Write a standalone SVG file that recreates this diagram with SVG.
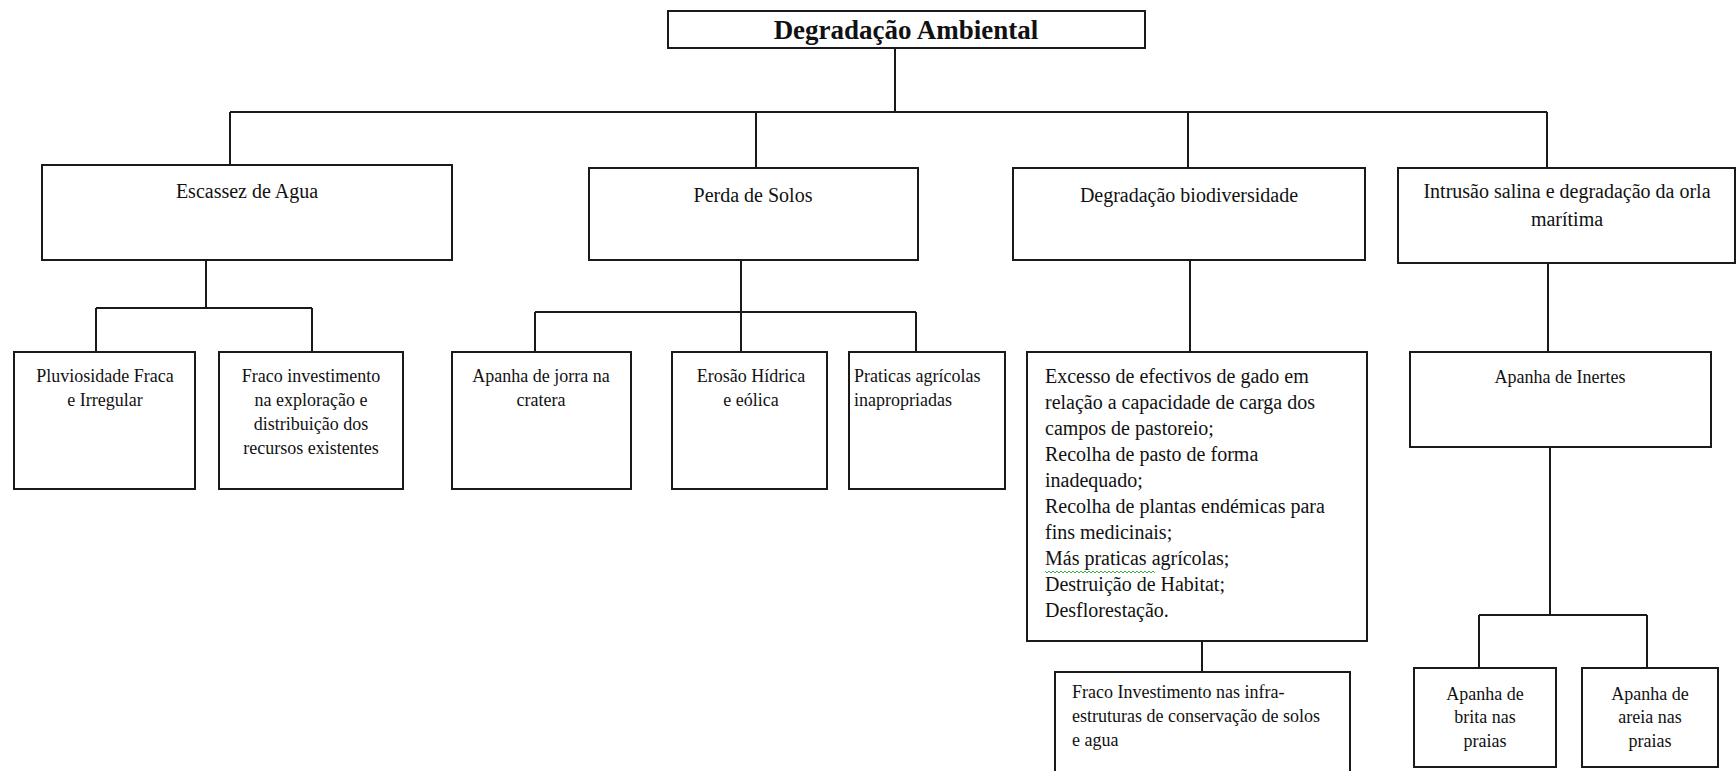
<svg xmlns="http://www.w3.org/2000/svg" width="1736" height="771" viewBox="0 0 1736 771">
<style>
.box{fill:#fff;stroke:#1a1a1a;stroke-width:2}
.ln{fill:none;stroke:#1a1a1a;stroke-width:2}
text{font-family:"Liberation Serif","Times New Roman",serif;fill:#111}
.t20{font-size:20px}
.t18{font-size:18px}
.c{text-anchor:middle}
.title{font-size:27px;font-weight:bold}
</style>
<rect width="1736" height="771" fill="#fff"/>
<g id="connectors">
<path class="ln" d="M895,48V112M230,112H1547M230,112V165M756,112V168M1188,112V168M1547,112V168"/>
<path class="ln" d="M206,260V308M96,308H312M96,308V352M312,308V352"/>
<path class="ln" d="M741,260V312M535,312H916M535,312V352M741,312V352M916,312V352"/>
<path class="ln" d="M1190,260V352M1202,641V672"/>
<path class="ln" d="M1548,263V352M1550,447V615M1479,615H1647M1479,615V668M1647,615V668"/>
</g>
<g id="n-title"><rect class="box" x="668" y="11" width="477" height="37"/><text class="title c" x="906" y="39">Degradação Ambiental</text></g>
<g id="n-escassez"><rect class="box" x="42" y="165" width="410" height="95"/><text class="t20 c" x="247" y="198">Escassez de Agua</text></g>
<g id="n-perda"><rect class="box" x="589" y="168" width="329" height="92"/><text class="t20 c" x="753" y="202">Perda de Solos</text></g>
<g id="n-bio"><rect class="box" x="1013" y="168" width="352" height="92"/><text class="t20 c" x="1189" y="202">Degradação biodiversidade</text></g>
<g id="n-intrusao"><rect class="box" x="1398" y="168" width="337" height="95"/><text class="t20 c" x="1567" y="198">Intrusão salina e degradação da orla</text><text class="t20 c" x="1567" y="226">marítima</text></g>
<g id="n-pluv"><rect class="box" x="14" y="352" width="181" height="137"/><text class="t18 c" x="105" y="382">Pluviosidade Fraca</text><text class="t18 c" x="105" y="406">e Irregular</text></g>
<g id="n-fracoinv"><rect class="box" x="219" y="352" width="184" height="137"/><text class="t18 c" x="311" y="382">Fraco investimento</text><text class="t18 c" x="311" y="406">na exploração e</text><text class="t18 c" x="311" y="430">distribuição dos</text><text class="t18 c" x="311" y="454">recursos existentes</text></g>
<g id="n-jorra"><rect class="box" x="452" y="352" width="179" height="137"/><text class="t18 c" x="541" y="382">Apanha de jorra na</text><text class="t18 c" x="541" y="406">cratera</text></g>
<g id="n-erosao"><rect class="box" x="672" y="352" width="155" height="137"/><text class="t18 c" x="751" y="382">Erosão Hídrica</text><text class="t18 c" x="751" y="406">e eólica</text></g>
<g id="n-praticas"><rect class="box" x="849" y="352" width="156" height="137"/><text class="t18" x="854" y="382">Praticas agrícolas</text><text class="t18" x="854" y="406">inapropriadas</text></g>
<g id="n-excesso"><rect class="box" x="1027" y="352" width="340" height="289"/>
<text class="t20" x="1045" y="383">Excesso de efectivos de gado em</text>
<text class="t20" x="1045" y="409">relação a capacidade de carga dos</text>
<text class="t20" x="1045" y="435">campos de pastoreio;</text>
<text class="t20" x="1045" y="461">Recolha de pasto de forma</text>
<text class="t20" x="1045" y="487">inadequado;</text>
<text class="t20" x="1045" y="513">Recolha de plantas endémicas para</text>
<text class="t20" x="1045" y="539">fins medicinais;</text>
<text class="t20" x="1045" y="565">Más praticas agrícolas;</text>
<text class="t20" x="1045" y="591">Destruição de Habitat;</text>
<text class="t20" x="1045" y="617">Desflorestação.</text>
<path d="M1045,571l2,2l2,-2l2,2l2,-2l2,2l2,-2l2,2l2,-2l2,2l2,-2l2,2l2,-2l2,2l2,-2l2,2l2,-2l2,2l2,-2l2,2l2,-2l2,2l2,-2l2,2l2,-2l2,2l2,-2l2,2l2,-2l2,2l2,-2l2,2l2,-2l2,2l2,-2l2,2l2,-2l2,2l2,-2l2,2l2,-2l2,2l2,-2l2,2l2,-2l2,2l2,-2l2,2l2,-2l2,2l2,-2l2,2l2,-2l2,2l2,-2l2,2" fill="none" stroke="#3cb043" stroke-width="1"/>
</g>
<g id="n-fracoinfra"><rect class="box" x="1055" y="672" width="295" height="110"/><text class="t18" x="1072" y="698">Fraco Investimento nas infra-</text><text class="t18" x="1072" y="722">estruturas de conservação de solos</text><text class="t18" x="1072" y="746">e agua</text></g>
<g id="n-inertes"><rect class="box" x="1410" y="352" width="301" height="95"/><text class="t18 c" x="1560" y="383">Apanha de Inertes</text></g>
<g id="n-brita"><rect class="box" x="1414" y="668" width="142" height="99"/><text class="t18 c" x="1485" y="700">Apanha de</text><text class="t18 c" x="1485" y="723">brita nas</text><text class="t18 c" x="1485" y="747">praias</text></g>
<g id="n-areia"><rect class="box" x="1582" y="668" width="136" height="99"/><text class="t18 c" x="1650" y="700">Apanha de</text><text class="t18 c" x="1650" y="723">areia nas</text><text class="t18 c" x="1650" y="747">praias</text></g>
</svg>
